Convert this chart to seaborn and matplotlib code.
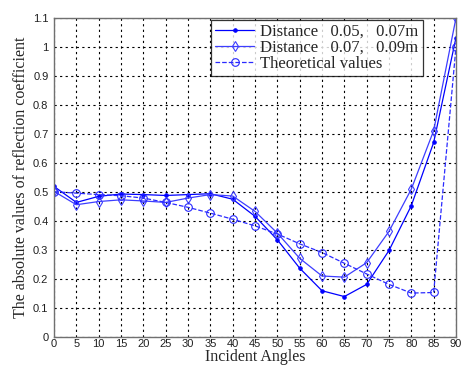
import matplotlib
matplotlib.use("Agg")
import matplotlib.pyplot as plt
import seaborn as sns
import numpy as np

# incident angles (degrees)
angles = [0, 5, 10, 15, 20, 25, 30, 35, 40, 45, 50, 55, 60, 65, 70, 75, 80, 85, 90]

# measured, distance 0.05, 0.07m
dist_a = [0.518, 0.463, 0.484, 0.492, 0.490, 0.487, 0.490, 0.493, 0.474, 0.415, 0.334, 0.236,
          0.158, 0.138, 0.180, 0.297, 0.452, 0.670, 1.032]
# measured, distance 0.07, 0.09m
dist_b = [0.501, 0.455, 0.466, 0.472, 0.468, 0.463, 0.478, 0.490, 0.485, 0.432, 0.357, 0.270,
          0.209, 0.205, 0.255, 0.363, 0.509, 0.711, 1.100]
# theoretical values
theory = [0.500, 0.495, 0.490, 0.486, 0.478, 0.463, 0.446, 0.426, 0.405, 0.382, 0.354, 0.320,
          0.290, 0.253, 0.216, 0.180, 0.150, 0.152, 1.000]

sns.set_style("white")

fig = plt.figure(figsize=(4.62, 3.65), dpi=100)
ax = fig.add_axes([0.117, 0.078, 0.870, 0.873])

sns.lineplot(x=angles, y=dist_a, ax=ax, color="#0000ff", lw=0.9, marker="o", markersize=2.5,
             markeredgecolor="#0000ff", label="Distance   0.05,   0.07m")
sns.lineplot(x=angles, y=dist_b, ax=ax, color="#3d3dff", lw=0.9, marker="d", markersize=5,
             markerfacecolor="none", markeredgecolor="#3d3dff", markeredgewidth=0.8,
             label="Distance   0.07,   0.09m")
sns.lineplot(x=angles, y=theory, ax=ax, color="#2a2aff", lw=0.9, marker="o", markersize=5.5,
             markerfacecolor="none", markeredgecolor="#2a2aff", markeredgewidth=0.8,
             linestyle="--", dashes=(2.5, 2), label="Theoretical values")

ax.set_xlim(0, 90)
ax.set_ylim(0, 1.1)
ax.set_xticks(np.arange(0, 91, 5))
ax.set_yticks(np.arange(0, 1.11, 0.1))
ax.set_yticklabels(["0", "0.1", "0.2", "0.3", "0.4", "0.5", "0.6", "0.7", "0.8", "0.9", "1", "1.1"])
ax.tick_params(direction="in", length=3, labelsize=8, width=0.6, colors="#202020")
ax.tick_params(axis="y", pad=4)
ax.tick_params(axis="x", pad=1.5)
for lab in ax.get_xticklabels() + ax.get_yticklabels():
    lab.set_family("Liberation Sans")

ax.grid(True, color="black", linestyle=(0, (2, 3)), linewidth=0.8)
for s in ax.spines.values():
    s.set_color("#707070")
    s.set_linewidth(1.0)

ax.set_xlabel("Incident Angles", family="Liberation Serif", fontsize=11.5, labelpad=0.5)
ax.set_ylabel("The absolute values of reflection coefficient", family="Liberation Serif",
              fontsize=11.5, labelpad=3)

leg = ax.legend(loc="upper left", bbox_to_anchor=(0.383, 1.005), frameon=True, fancybox=False,
                edgecolor="black", prop={"family": "Liberation Serif", "size": 12},
                borderpad=0.25, labelspacing=0.0, handlelength=2.3, handletextpad=0.4,
                borderaxespad=0.2)
leg.get_frame().set_linewidth(0.9)

fig.savefig("out.png", dpi=100)
